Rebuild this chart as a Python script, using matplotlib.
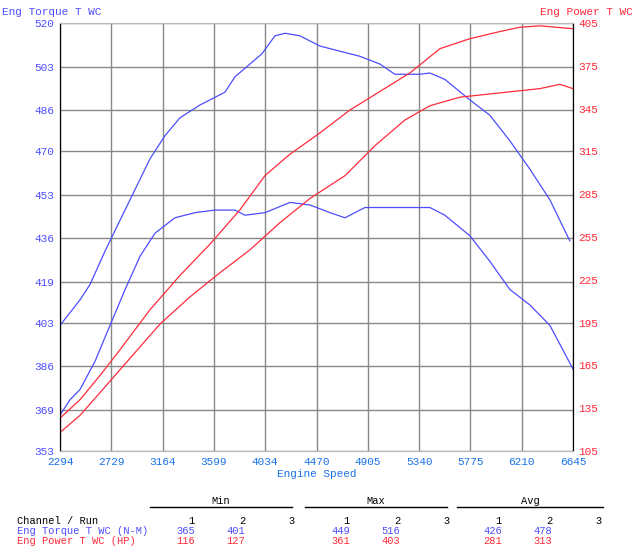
import matplotlib
matplotlib.use("Agg")
import matplotlib.pyplot as plt
import numpy as np

W, H = 635, 560
BLUE = "#4d4dff"
RED = "#ff2a3a"
XBLUE = "#1a73e8"
MONO = "Liberation Mono"

X_TICKS = [2294, 2729, 3164, 3599, 4034, 4470, 4905, 5340, 5775, 6210, 6645]
TQ_TICKS = [353, 369, 386, 403, 419, 436, 453, 470, 486, 503, 520]
PW_TICKS = [105, 135, 165, 195, 225, 255, 285, 315, 345, 375, 405]

TQ2_RPM = [2294, 2464, 2549, 2676, 2803, 2930, 3057, 3184, 3311, 3481, 3693, 3778, 3905, 4007,
           4117, 4202, 4329, 4499, 4668, 4838, 5007, 5134, 5346, 5431, 5558, 5770, 5940, 6110,
           6279, 6449, 6618]
TQ2_VAL = [402, 412, 418, 431, 443, 455, 467, 476, 483, 488, 493, 499, 504, 508,
           515, 516, 515, 511, 509, 507, 504, 500, 500, 500.5, 498, 490, 484, 474,
           463, 451, 435]

TQ1_RPM = [2294, 2379, 2464, 2591, 2718, 2846, 2973, 3100, 3269, 3439, 3608, 3778, 3863, 4033,
           4245, 4414, 4584, 4711, 4880, 5050, 5262, 5431, 5558, 5770, 5940, 6110, 6279, 6449,
           6645]
TQ1_VAL = [367, 373, 377, 388, 402, 416, 429, 438, 444, 446, 447, 447, 445, 446,
           450, 449, 446, 444, 448, 448, 448, 448, 445, 437, 427, 416, 410, 402,
           385]

PW2_RPM = [2294, 2464, 2634, 2803, 3057, 3311, 3566, 3820, 4032, 4244, 4499, 4753, 5007, 5262,
           5516, 5770, 6024, 6194, 6364, 6645]
PW2_VAL = [128, 141, 158, 176, 204, 228, 250, 274, 298, 313, 328, 344, 357, 370,
           387, 394, 399, 402, 403, 401]

PW1_RPM = [2294, 2464, 2634, 2888, 3142, 3396, 3651, 3905, 4159, 4414, 4711, 4965, 5219, 5431,
           5685, 6024, 6364, 6533, 6645]
PW1_VAL = [118, 130, 146, 170, 194, 213, 230, 246, 265, 282, 298, 319, 337, 347,
           353, 356, 359, 362, 359]

fig = plt.figure(figsize=(W / 100, H / 100), dpi=100)
ax = fig.add_axes([60 / W, (H - 451) / H, 513 / W, 428 / H])
ax2 = ax.twinx()

ax.plot(TQ2_RPM, TQ2_VAL, color=BLUE, lw=0.9)
ax.plot(TQ1_RPM, TQ1_VAL, color=BLUE, lw=0.9)
ax2.plot(PW2_RPM, PW2_VAL, color=RED, lw=0.9)
ax2.plot(PW1_RPM, PW1_VAL, color=RED, lw=0.9)

ax.set_xlim(X_TICKS[0], X_TICKS[-1])
ax.set_ylim(TQ_TICKS[0], TQ_TICKS[-1])
ax2.set_ylim(PW_TICKS[0], PW_TICKS[-1])
ax.set_xticks(X_TICKS)
ax.set_yticks(TQ_TICKS)
ax2.set_yticks(PW_TICKS)
ax.set_xticklabels([str(v) for v in X_TICKS], color=XBLUE, fontsize=8, family=MONO)
ax.set_yticklabels([str(v) for v in TQ_TICKS], color=BLUE, fontsize=8, family=MONO)
ax2.set_yticklabels([str(v) for v in PW_TICKS], color=RED, fontsize=8, family=MONO)
ax.tick_params(length=0, pad=4)
ax2.tick_params(length=0, pad=4)
ax.grid(True, color="#888888", lw=1)
for a in (ax, ax2):
    for s in a.spines.values():
        s.set_color("#bbbbbb")
    a.spines["left"].set_color("black")
    a.spines["right"].set_color("black")
ax.set_xlabel("Engine Speed", color=XBLUE, fontsize=8, family=MONO, labelpad=2)

fig.text(2 / W, 1 - 12 / H, "Eng Torque T WC", color=BLUE, fontsize=8, family=MONO, va="center")
fig.text(633 / W, 1 - 12 / H, "Eng Power T WC", color=RED, fontsize=8, family=MONO, va="center", ha="right")


def px(x, y):
    return x / W, 1 - y / H


# summary table
GROUPS = ["Min", "Max", "Avg"]
GROUP_X = [(150, 292), (305, 447), (457, 603)]
ROWS = ["Eng Torque T WC (N-M)", "Eng Power T WC (HP)"]
ROW_COLORS = [BLUE, RED]
TABLE = [[[365, 401], [449, 516], [426, 478]],
         [[116, 127], [361, 403], [281, 313]]]
COL_OFFS = [45, 95, 145]

for g, (x0, x1) in zip(GROUPS, GROUP_X):
    fig.text(*px((x0 + x1) / 2, 501), g, ha="center", va="center", fontsize=7.5, family=MONO)
    fig.add_artist(plt.Line2D([x0 / W, x1 / W], [1 - 507 / H] * 2, color="black", lw=1))

fig.text(*px(17, 521), "Channel / Run", va="center", fontsize=7.5, family=MONO)
for x0, _ in GROUP_X:
    for i, off in enumerate(COL_OFFS):
        fig.text(*px(x0 + off, 521), str(i + 1), ha="right", va="center", fontsize=7.5, family=MONO)
for r, (name, col) in enumerate(zip(ROWS, ROW_COLORS)):
    y = 531 + r * 10.5
    fig.text(*px(17, y), name, va="center", color=col, fontsize=7.5, family=MONO)
    for (x0, _), vals in zip(GROUP_X, TABLE[r]):
        for off, v in zip(COL_OFFS, vals):
            fig.text(*px(x0 + off, y), str(v), ha="right", va="center", color=col, fontsize=7.5, family=MONO)

fig.savefig("out.png", dpi=100)
